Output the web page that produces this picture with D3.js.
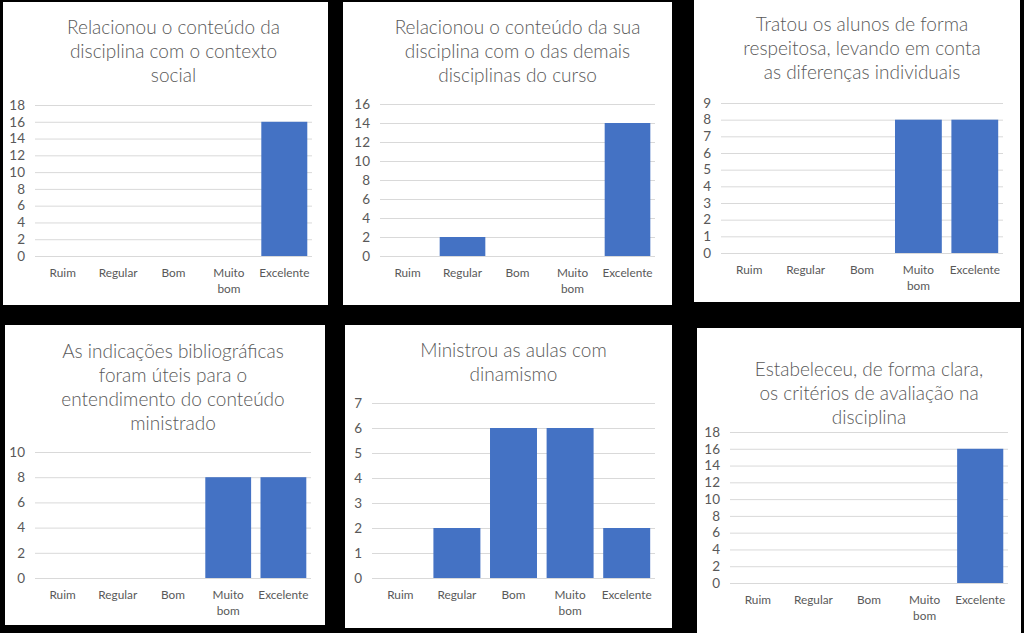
<!DOCTYPE html>
<html><head><meta charset="utf-8">
<script src="https://cdn.jsdelivr.net/npm/d3@7"></script>
<style>html,body{margin:0;padding:0;background:#000;}svg{display:block;}</style>
</head><body>
<svg id="c" width="1024" height="633"></svg>
<script>
const categories = ["Ruim", "Regular", "Bom", "Muito bom", "Excelente"];
const titles = [
  ["Relacionou o conteúdo da", "disciplina com o contexto", "social"],
  ["Relacionou o conteúdo da sua", "disciplina com o das demais", "disciplinas do curso"],
  ["Tratou os alunos de forma", "respeitosa, levando em conta", "as diferenças individuais"],
  ["As indicações bibliográficas", "foram úteis para o", "entendimento do conteúdo", "ministrado"],
  ["Ministrou as aulas com", "dinamismo"],
  ["Estabeleceu, de forma clara,", "os critérios de avaliação na", "disciplina"]
];
const values1 = [0, 0, 0, 0, 16];
const values2 = [0, 2, 0, 0, 14];
const values3 = [0, 0, 0, 8, 8];
const values4 = [0, 0, 0, 8, 8];
const values5 = [0, 2, 6, 6, 2];
const values6 = [0, 0, 0, 0, 16];
const yMax = [18, 16, 9, 10, 7, 18];
const yStep = [2, 2, 1, 2, 1, 2];

const seriesList = [values1, values2, values3, values4, values5, values6];

// layout: panel box, plot area, title first-line baseline
const layout = [
  {px:3,  py:2,   pw:325, ph:303, x0:35,  x1:312,  yTop:105, yBot:256, t0:34},
  {px:343,py:2,   pw:329, ph:303, x0:380, x1:655,  yTop:104, yBot:256, t0:34},
  {px:694,py:0,   pw:326, ph:302, x0:721, x1:1003, yTop:103, yBot:253, t0:31},
  {px:5,  py:325, pw:320, ph:300, x0:35,  x1:311,  yTop:452, yBot:578, t0:358},
  {px:345,py:325, pw:327, ph:303, x0:372, x1:655,  yTop:403, yBot:578, t0:357},
  {px:697,py:328, pw:324, ph:305, x0:730, x1:1008, yTop:432, yBot:583, t0:376}
];

const svg = d3.select("#c");
const FONT = "Lato, 'Open Sans', sans-serif";
const TXT = "#595959";

seriesList.forEach((vals, i) => {
  const L = layout[i];
  const g = svg.append("g");
  g.append("rect").attr("x", L.px).attr("y", L.py).attr("width", L.pw).attr("height", L.ph).attr("fill", "#fff");

  // title
  const tc = (L.x0 + L.x1) / 2;
  g.append("g").selectAll("text").data(titles[i]).join("text")
    .attr("x", tc).attr("y", (d, k) => L.t0 + k * 24)
    .attr("text-anchor", "middle").attr("font-family", FONT).attr("font-weight", 300)
    .attr("font-size", 19).attr("fill", TXT).text(d => d);

  const x = d3.scaleBand().domain(categories).range([L.x0, L.x1]).paddingInner(0.17).paddingOuter(0.085);
  const y = d3.scaleLinear().domain([0, yMax[i]]).range([L.yBot, L.yTop]);
  const ticks = d3.range(0, yMax[i] + 0.001, yStep[i]);

  // gridlines
  const yAxis = d3.axisLeft(y).tickValues(ticks).tickSize(-(L.x1 - L.x0)).tickPadding(10).tickFormat(d3.format("d"));
  const ga = g.append("g").attr("transform", `translate(${L.x0},0)`).call(yAxis);
  ga.select(".domain").remove();
  ga.selectAll(".tick line").attr("stroke", "#d9d9d9").attr("stroke-width", 1);
  ga.selectAll(".tick text").attr("fill", TXT).attr("font-family", FONT).attr("font-size", 13.5);

  // bars
  g.append("g").selectAll("rect").data(vals.map((v, k) => ({c: categories[k], v}))).join("rect")
    .attr("x", d => x(d.c)).attr("width", x.bandwidth())
    .attr("y", d => y(d.v)).attr("height", d => L.yBot - y(d.v))
    .attr("fill", "#4472C4");

  // category labels
  const xAxis = d3.axisBottom(x).tickSize(0).tickPadding(0);
  const gx = g.append("g").attr("transform", `translate(0,${L.yBot})`).call(xAxis);
  gx.select(".domain").remove();
  gx.selectAll(".tick text").each(function(d) {
    const t = d3.select(this);
    t.text(null).attr("fill", TXT).attr("font-family", FONT).attr("font-size", 11.8).attr("dy", null).attr("y", 0);
    const parts = d === "Muito bom" ? ["Muito", "bom"] : [d];
    parts.forEach((p, k) => t.append("tspan").attr("x", 0).attr("y", 21 + k * 16).text(p));
  });
});
</script>
</body></html>
